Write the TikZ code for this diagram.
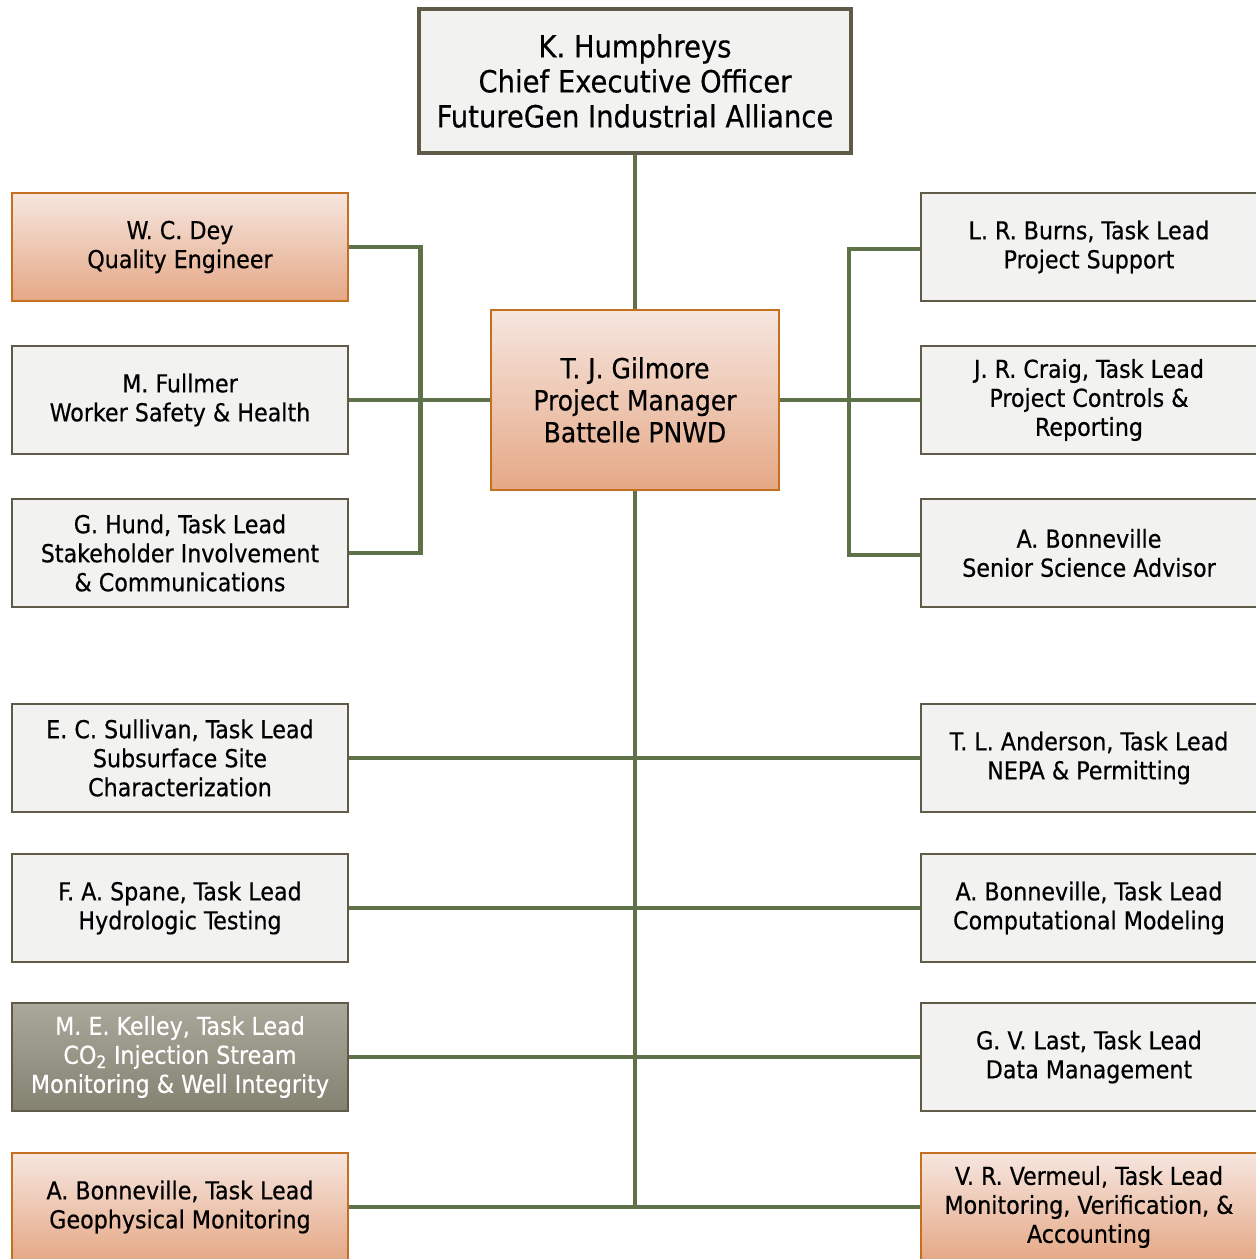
\documentclass[tikz,border=0pt]{standalone}
\usepackage{fontspec}
\setmainfont{DejaVu Sans Condensed}[BoldFont=DejaVu Sans Condensed, BoldFeatures={FakeBold=0.5}]
\definecolor{boxline}{HTML}{5F5B48}
\definecolor{boxfill}{HTML}{F2F2F1}
\definecolor{conncol}{HTML}{5F7149}
\definecolor{oline}{HTML}{C4701E}
\definecolor{otop}{HTML}{F6E6DF}
\definecolor{obot}{HTML}{E5A886}
\definecolor{gtop}{HTML}{A9A89B}
\definecolor{gbot}{HTML}{848271}
\tikzset{
  plainbox/.style={draw=boxline, line width=2.5pt, fill=boxfill, minimum width=336pt, minimum height=108pt, align=center, inner sep=0pt, font=\bfseries\fontsize{24.7}{29}\selectfont},
  orangebox/.style={plainbox, draw=oline, top color=otop, bottom color=obot},
  graybox/.style={plainbox, draw=boxline, top color=gtop, bottom color=gbot, text=white},
  conn/.style={draw=conncol, line width=4.5pt},
}
\begin{document}
\begin{tikzpicture}[x=1pt,y=-1pt]
\useasboundingbox (0,0) rectangle (1256,1259);
\node[plainbox, line width=4.5pt, minimum width=432pt, minimum height=144pt, font=\bfseries\fontsize{30.5}{35}\selectfont] (ceo) at (635,81) {K. Humphreys\\Chief Executive Officer\\FutureGen Industrial Alliance};
\node[orangebox, minimum width=288pt, minimum height=180pt, font=\bfseries\fontsize{27.8}{32}\selectfont] (gil) at (635,400) {T. J. Gilmore\\Project Manager\\Battelle PNWD};

\node[orangebox] (dey) at (180,247) {W. C. Dey\\Quality Engineer};
\node[plainbox] (ful) at (180,400) {M. Fullmer\\Worker Safety \& Health};
\node[plainbox] (hund) at (180,553) {G. Hund, Task Lead\\Stakeholder Involvement\\\& Communications};
\node[plainbox] (sul) at (180,758) {E. C. Sullivan, Task Lead\\Subsurface Site\\Characterization};
\node[plainbox] (spa) at (180,908) {F. A. Spane, Task Lead\\Hydrologic Testing};
\node[graybox] (kel) at (180,1057) {M. E. Kelley, Task Lead\\CO\textsubscript{2} Injection Stream\\Monitoring \& Well Integrity};
\node[orangebox] (geo) at (180,1207) {A. Bonneville, Task Lead\\Geophysical Monitoring};

\node[plainbox] (bur) at (1089,247) {L. R. Burns, Task Lead\\Project Support};
\node[plainbox] (cra) at (1089,400) {J. R. Craig, Task Lead\\Project Controls \&\\Reporting};
\node[plainbox] (bsa) at (1089,553) {A. Bonneville\\Senior Science Advisor};
\node[plainbox] (and) at (1089,758) {T. L. Anderson, Task Lead\\NEPA \& Permitting};
\node[plainbox] (cmp) at (1089,908) {A. Bonneville, Task Lead\\Computational Modeling};
\node[plainbox] (las) at (1089,1057) {G. V. Last, Task Lead\\Data Management};
\node[orangebox] (ver) at (1089,1207) {V. R. Vermeul, Task Lead\\Monitoring, Verification, \&\\Accounting};

\draw[conn] (ceo.south) -- (gil.north);
\draw[conn] (dey.east) -- ++(71,0) |- (hund.east);
\draw[conn] (ful.east) -- (gil.west);
\draw[conn] ([yshift=-2pt]bur.west) -- ++(-71,0) |- ([yshift=-2pt]bsa.west);
\draw[conn] (gil.east) -- (cra.west);
\draw[conn] (gil.south) -- (gil.south |- geo.east);
\draw[conn] (sul.east) -- (and.west);
\draw[conn] (spa.east) -- (cmp.west);
\draw[conn] (kel.east) -- (las.west);
\draw[conn] (geo.east) -- (ver.west);
\end{tikzpicture}
\end{document}
